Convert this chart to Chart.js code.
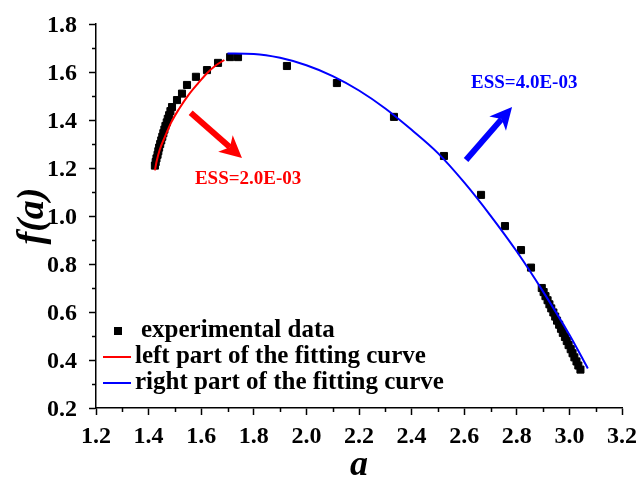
<!DOCTYPE html>
<html>
<head>
<meta charset="utf-8">
<script src="https://cdn.jsdelivr.net/npm/chart.js@4.4.1/dist/chart.umd.min.js"></script>
<style>
  html, body { margin: 0; padding: 0; background: #fff; }
  #chart { display: block; }
</style>
</head>
<body>
<canvas id="chart" width="639" height="484"></canvas>
<script>
var expX = [1.424, 1.427, 1.430, 1.434, 1.437, 1.440, 1.444, 1.448, 1.452, 1.456, 1.460, 1.464,
            1.469, 1.473, 1.478, 1.483, 1.489, 1.508, 1.527, 1.546, 1.580, 1.622, 1.664,
            1.710, 1.740, 1.926, 2.116, 2.333, 2.523, 2.664, 2.755, 2.816, 2.854,
            2.895, 2.902, 2.909, 2.917, 2.924, 2.931, 2.939, 2.946, 2.953, 2.961, 2.968,
            2.975, 2.983, 2.990, 2.997, 3.005, 3.012, 3.019, 3.027, 3.034, 3.042];
var expY = [1.210, 1.225, 1.240, 1.255, 1.270, 1.285, 1.300, 1.315, 1.330, 1.345, 1.360, 1.375,
            1.390, 1.405, 1.420, 1.437, 1.454, 1.483, 1.510, 1.546, 1.580, 1.608, 1.638,
            1.662, 1.662, 1.625, 1.554, 1.413, 1.250, 1.088, 0.958, 0.858, 0.785,
            0.700, 0.683, 0.666, 0.649, 0.632, 0.615, 0.598, 0.581, 0.564, 0.547, 0.530,
            0.513, 0.496, 0.479, 0.462, 0.445, 0.428, 0.411, 0.394, 0.377, 0.360];

/* left part of the fitting curve */
var leftX = [1.424, 1.430, 1.442, 1.462, 1.486, 1.515, 1.552, 1.588, 1.622, 1.655, 1.688];
var leftY = [1.190, 1.225, 1.275, 1.330, 1.390, 1.445, 1.505, 1.553, 1.595, 1.627, 1.650];

/* right part of the fitting curve */
var rightX = [1.700, 1.800, 1.900, 2.000, 2.100, 2.200, 2.300, 2.400, 2.500, 2.600,
              2.700, 2.800, 2.900, 3.000, 3.070];
var rightY = [1.677, 1.675, 1.659, 1.628, 1.583, 1.523, 1.448, 1.359, 1.262, 1.140,
              1.002, 0.852, 0.685, 0.505, 0.365];

var xTicks = [1.2, 1.4, 1.6, 1.8, 2.0, 2.2, 2.4, 2.6, 2.8, 3.0, 3.2];
var yTicks = [0.2, 0.4, 0.6, 0.8, 1.0, 1.2, 1.4, 1.6, 1.8];

var legendLabels = ['experimental data', 'left part of the fitting curve', 'right part of the fitting curve'];

/* ESS annotations, in data units */
var essText = ['ESS=2.0E-03', 'ESS=4.0E-03'];
var essArrowFrom = [[1.560, 1.430], [2.607, 1.233]];
var essArrowTo = [[1.755, 1.242], [2.782, 1.454]];
var essTextAt = [[1.576, 1.154], [2.626, 1.554]];

var RED = '#FF0000';
var BLUE = '#0000FF';
var SERIF = "'Liberation Serif', 'Times New Roman', serif";

function toPoints(xs, ys) {
  return xs.map(function (x, i) { return { x: x, y: ys[i] }; });
}

/* short minor ticks half way between the labelled ones */
var minorTicks = {
  id: 'minorTicks',
  afterDraw: function (chart) {
    var ctx = chart.ctx;
    var xs = chart.scales.x, ys = chart.scales.y;
    var area = chart.chartArea;
    ctx.save();
    ctx.strokeStyle = '#000';
    ctx.lineWidth = 1.5;
    ctx.beginPath();
    for (var i = 0; i < xTicks.length - 1; i++) {
      var px = Math.round(xs.getPixelForValue((xTicks[i] + xTicks[i + 1]) / 2)) + 0.5;
      ctx.moveTo(px, area.bottom);
      ctx.lineTo(px, area.bottom + 4);
    }
    for (var j = 0; j < yTicks.length - 1; j++) {
      var py = Math.round(ys.getPixelForValue((yTicks[j] + yTicks[j + 1]) / 2)) + 0.5;
      ctx.moveTo(area.left, py);
      ctx.lineTo(area.left - 4, py);
    }
    ctx.stroke();
    ctx.restore();
  }
};

/* arrows + ESS labels */
var essNotes = {
  id: 'essNotes',
  afterDatasetsDraw: function (chart) {
    var ctx = chart.ctx;
    var xs = chart.scales.x, ys = chart.scales.y;
    var colors = [RED, BLUE];
    ctx.save();
    for (var i = 0; i < essText.length; i++) {
      var x0 = xs.getPixelForValue(essArrowFrom[i][0]), y0 = ys.getPixelForValue(essArrowFrom[i][1]);
      var x1 = xs.getPixelForValue(essArrowTo[i][0]), y1 = ys.getPixelForValue(essArrowTo[i][1]);
      var ang = Math.atan2(y1 - y0, x1 - x0);
      var headLen = 22, headHalf = 11, notch = 6;
      var bx = x1 - headLen * Math.cos(ang), by = y1 - headLen * Math.sin(ang);
      ctx.strokeStyle = colors[i];
      ctx.fillStyle = colors[i];
      ctx.lineWidth = 6;
      ctx.beginPath();
      ctx.moveTo(x0, y0);
      ctx.lineTo(bx + notch * Math.cos(ang), by + notch * Math.sin(ang));
      ctx.stroke();
      ctx.beginPath();
      ctx.moveTo(x1, y1);
      ctx.lineTo(bx - headHalf * Math.sin(ang), by + headHalf * Math.cos(ang));
      ctx.lineTo(bx + notch * Math.cos(ang), by + notch * Math.sin(ang));
      ctx.lineTo(bx + headHalf * Math.sin(ang), by - headHalf * Math.cos(ang));
      ctx.closePath();
      ctx.fill();

      ctx.font = 'bold 19px ' + SERIF;
      ctx.textAlign = 'left';
      ctx.textBaseline = 'middle';
      ctx.fillText(essText[i], xs.getPixelForValue(essTextAt[i][0]), ys.getPixelForValue(essTextAt[i][1]));
    }
    ctx.restore();
  }
};

/* legend box inside the plot, lower left */
var innerLegend = {
  id: 'innerLegend',
  afterDraw: function (chart) {
    var ctx = chart.ctx;
    var a = chart.chartArea;
    var rows = [a.bottom - 77, a.bottom - 51, a.bottom - 25];
    ctx.save();
    ctx.font = 'bold 25px ' + SERIF;
    ctx.textBaseline = 'middle';
    ctx.textAlign = 'left';
    ctx.fillStyle = '#000';
    ctx.fillRect(a.left + 18, rows[0] - 4, 8, 8);
    ctx.fillText(legendLabels[0], a.left + 45, rows[0]);
    ctx.lineWidth = 2;
    ctx.strokeStyle = RED;
    ctx.beginPath(); ctx.moveTo(a.left + 7, rows[1]); ctx.lineTo(a.left + 35, rows[1]); ctx.stroke();
    ctx.fillText(legendLabels[1], a.left + 39, rows[1]);
    ctx.strokeStyle = BLUE;
    ctx.beginPath(); ctx.moveTo(a.left + 7, rows[2]); ctx.lineTo(a.left + 35, rows[2]); ctx.stroke();
    ctx.fillText(legendLabels[2], a.left + 39, rows[2]);
    ctx.restore();
  }
};

var tickFont = { family: SERIF, size: 24, weight: 'bold' };

new Chart(document.getElementById('chart'), {
  type: 'scatter',
  data: {
    datasets: [
      {
        label: legendLabels[1],
        data: toPoints(leftX, leftY),
        showLine: true,
        borderColor: RED,
        borderWidth: 2,
        pointRadius: 0,
        cubicInterpolationMode: 'monotone',
        order: 1
      },
      {
        label: legendLabels[2],
        data: toPoints(rightX, rightY),
        showLine: true,
        borderColor: BLUE,
        borderWidth: 2,
        pointRadius: 0,
        cubicInterpolationMode: 'monotone',
        order: 1
      },
      {
        label: legendLabels[0],
        data: toPoints(expX, expY),
        pointStyle: 'rect',
        pointRadius: 5,
        pointBorderWidth: 1,
        backgroundColor: '#000',
        borderColor: '#000',
        order: 2
      }
    ]
  },
  options: {
    responsive: false,
    animation: false,
    events: [],
    layout: { padding: { top: 24, right: 17, left: 0, bottom: 0 } },
    plugins: {
      legend: { display: false },
      tooltip: { enabled: false }
    },
    scales: {
      x: {
        type: 'linear',
        min: 1.2,
        max: 3.2,
        afterBuildTicks: function (scale) {
          scale.ticks = xTicks.map(function (v) { return { value: v }; });
        },
        afterFit: function (scale) {
          scale.height = 76;
          scale.paddingLeft = 0;
          scale.paddingRight = 0;
        },
        ticks: {
          color: '#000',
          font: tickFont,
          padding: 7,
          maxRotation: 0,
          autoSkip: false,
          callback: function (v) { return Number(v).toFixed(1); }
        },
        grid: { drawOnChartArea: false, tickLength: 7, tickWidth: 1.5, tickColor: '#000' },
        border: { color: '#000', width: 1.5 },
        title: {
          display: true,
          text: 'a',
          color: '#000',
          font: { family: SERIF, size: 36, weight: 'bold', style: 'italic', lineHeight: 1 },
          padding: 0
        }
      },
      y: {
        type: 'linear',
        min: 0.2,
        max: 1.8,
        afterBuildTicks: function (scale) {
          scale.ticks = yTicks.map(function (v) { return { value: v }; });
        },
        afterFit: function (scale) {
          scale.width = 96;
          scale.paddingTop = 0;
          scale.paddingBottom = 0;
        },
        ticks: {
          color: '#000',
          font: tickFont,
          padding: 12,
          labelOffset: 2,
          autoSkip: false,
          callback: function (v) { return Number(v).toFixed(1); }
        },
        grid: { drawOnChartArea: false, tickLength: 7, tickWidth: 1.5, tickColor: '#000' },
        border: { color: '#000', width: 1.5 },
        title: {
          display: true,
          text: 'f(a)',
          color: '#000',
          font: { family: SERIF, size: 38, weight: 'bold', style: 'italic', lineHeight: 1 },
          padding: { top: 14, bottom: 0 }
        }
      }
    }
  },
  plugins: [minorTicks, essNotes, innerLegend]
});
</script>
</body>
</html>
